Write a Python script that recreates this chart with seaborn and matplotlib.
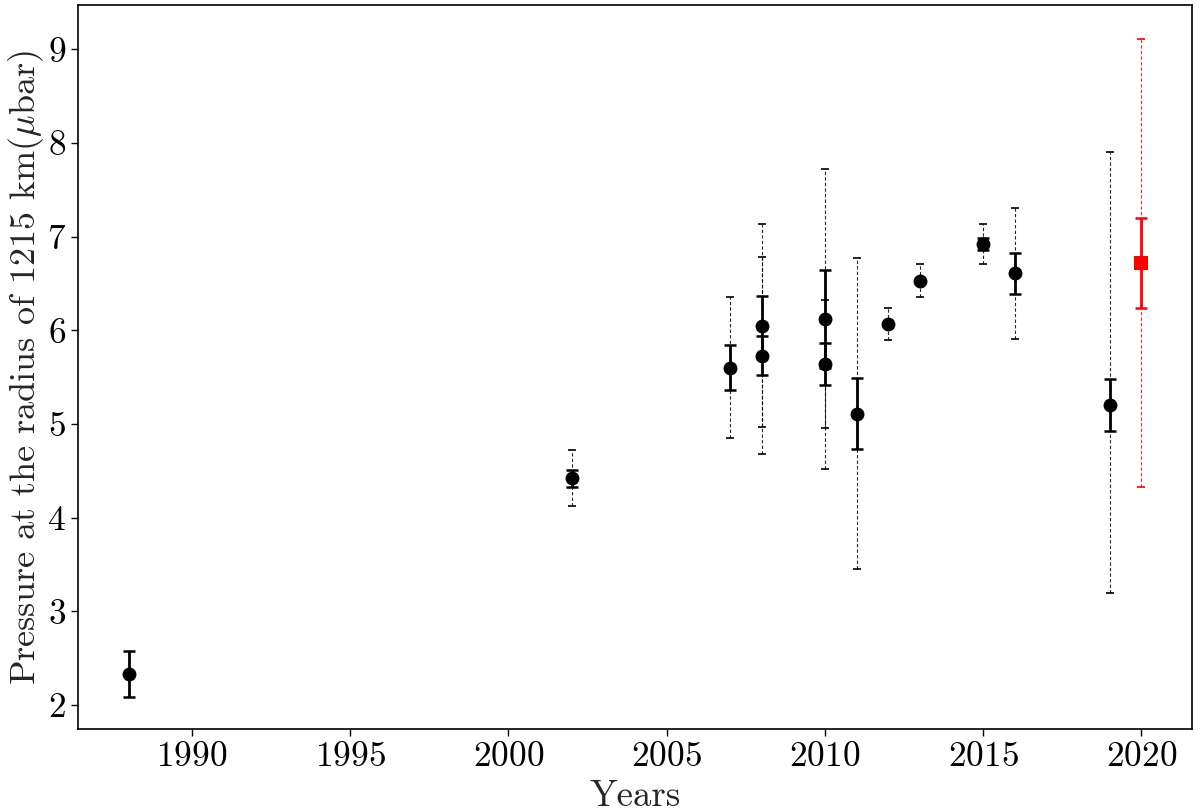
import numpy as np
import pandas as pd
import matplotlib
matplotlib.use("Agg")
import matplotlib.pyplot as plt
import seaborn as sns

# ---- data ----
years = [1988, 2002, 2007, 2008, 2008, 2010, 2010, 2011, 2012, 2013, 2015, 2016, 2019]
pressure = [2.33, 4.42, 5.60, 6.05, 5.73, 6.12, 5.64, 5.11, 6.07, 6.53, 6.92, 6.61, 5.20]
err_solid = [0.245, 0.09, 0.24, 0.32, 0.21, 0.52, 0.22, 0.38, 0.0, 0.0, 0.06, 0.22, 0.28]
err_dashed_low = [np.nan, 0.30, 0.75, 1.08, 1.05, 1.60, 0.68, 1.66, 0.17, 0.18, 0.21, 0.70, 2.00]
err_dashed_high = [np.nan, 0.30, 0.75, 1.08, 1.05, 1.60, 0.68, 1.66, 0.17, 0.18, 0.21, 0.70, 2.70]

new_year = [2020]
new_pressure = [6.72]
new_err_solid = [0.48]
new_err_dashed = [2.39]

x_label = "Years"
y_label = r"Pressure at the radius of 1215 km($\mu$bar)"

# ---- style ----
sns.set_style("ticks")
plt.rcParams["font.family"] = "serif"
plt.rcParams["font.serif"] = ["cmr10"]
plt.rcParams["mathtext.fontset"] = "cm"
plt.rcParams["axes.formatter.use_mathtext"] = True
plt.rcParams["axes.unicode_minus"] = False

df = pd.DataFrame({"year": years, "p": pressure, "es": err_solid,
                   "edl": err_dashed_low, "edh": err_dashed_high})
dfd = df.dropna(subset=["edl"])
dfn = pd.DataFrame({"year": new_year, "p": new_pressure, "es": new_err_solid,
                    "edl": new_err_dashed, "edh": new_err_dashed})

fig = plt.figure(figsize=(12, 8.11), dpi=100)
ax = fig.add_axes([0.065, 0.1008, 0.9283, 0.8927])

# dashed (outer) error bars
for d, col in [(dfd, "black"), (dfn, "red")]:
    eb = ax.errorbar(d["year"], d["p"], yerr=[d["edl"], d["edh"]], fmt="none", ecolor=col,
                     elinewidth=0.8, capsize=3, capthick=1.2, zorder=2)
    eb[2][0].set_linestyle((0, (3, 2)))
    eb[2][0].set_alpha(0.85)

# solid (inner) error bars
dfs = df[df["es"] > 0]
ax.errorbar(dfs["year"], dfs["p"], yerr=dfs["es"], fmt="none", ecolor="black",
            elinewidth=2, capsize=4, capthick=1.8, zorder=3)
ax.errorbar(dfn["year"], dfn["p"], yerr=dfn["es"], fmt="none", ecolor="red",
            elinewidth=2, capsize=4, capthick=1.8, zorder=3)

# markers
sns.scatterplot(data=df, x="year", y="p", ax=ax, color="black", marker="o",
                s=100, edgecolor="black", linewidth=0, zorder=4)
sns.scatterplot(data=dfn, x="year", y="p", ax=ax, color="red", marker="s",
                s=100, edgecolor="red", linewidth=0, zorder=4)

ax.set_xticks([1990, 1995, 2000, 2005, 2010, 2015, 2020])
ax.set_yticks([2, 3, 4, 5, 6, 7, 8, 9])
ax.set_xlim(1986.4, 2021.6)
ax.set_ylim(1.74, 9.47)
ax.tick_params(labelsize=25.5, length=5, width=1, direction="out", colors="black")
ax.set_xlabel(x_label, fontsize=26.5, labelpad=5)
ax.set_ylabel(y_label, fontsize=26, labelpad=0.5)
for s in ax.spines.values():
    s.set_visible(True)
    s.set_linewidth(1.2)
    s.set_color("black")

fig.savefig("out.png", dpi=100)
